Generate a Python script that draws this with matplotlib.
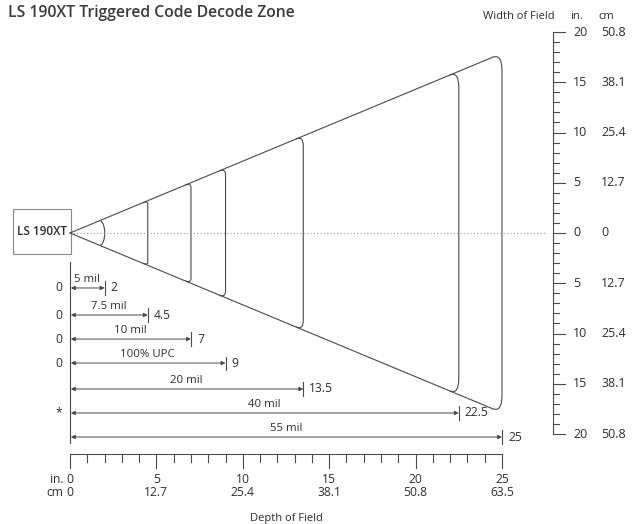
import numpy as np
import matplotlib.pyplot as plt
from matplotlib.path import Path
from matplotlib.patches import PathPatch, Rectangle

plt.rcParams['font.family'] = ['Open Sans', 'DejaVu Sans']

# chart data (inches)
mil_labels = ['5 mil', '7.5 mil', '10 mil', '100% UPC', '20 mil', '40 mil', '55 mil']
near_range = ['0', '0', '0', '0', '', '*', '']
far_range = [2, 4.5, 7, 9, 13.5, 22.5, 25]
depth_ticks = [0, 5, 10, 15, 20, 25]
width_ticks = [20, 15, 10, 5, 0, -5, -10, -15, -20]
cone_slope = 0.715   # half width of the zone per inch of depth

# layout
line_c = '#4a4a4a'
text_c = '#2e2e2e'
row_y = [-5.47, -8.16, -10.55, -12.94, -15.52, -17.91, -20.30]
ruler_x = 27.95      # right hand width ruler
ruler_y = -21.99     # bottom depth ruler

fig = plt.figure(figsize=(6.36, 5.24), dpi=100)
ax = fig.add_axes([0, 0, 1, 1])
ax.set_xlim(-70 / 17.28, (636 - 70) / 17.28)
ax.set_ylim((233 - 524) / 10.05, 233 / 10.05)
ax.axis('off')

ax.text(-3.59, 21.9, 'LS 190XT Triggered Code Decode Zone', fontsize=11.3,
        fontweight='semibold', color='#3a3a3a', ha='left', va='center')

# scanner box
ax.add_patch(Rectangle((-3.30, -2.09), 3.36, 4.48, fill=False, ec='#8a8a8a', lw=0.8))
ax.text(-1.62, 0.15, 'LS 190XT', fontsize=8.5, fontweight='semibold', color=text_c,
        ha='center', va='center')

# center line
ax.plot([0, 27.5], [0, 0], color='#9a9a9a', lw=0.8, ls=(0, (1, 2)))


def corner(D):
    return 0.25 + 0.012 * D, 0.07 * D


# cone edges
a, b = corner(far_range[-1])
end = far_range[-1] - a
ax.plot([0, end], [0, cone_slope * end], color=line_c, lw=0.8)
ax.plot([0, end], [0, -cone_slope * end], color=line_c, lw=0.8)

# zone boundaries
for i, D in enumerate(far_range):
    if i == 0:
        d0 = D - 0.26
        verts = [(d0, cone_slope * d0), (D + 0.1, 1.0), (D + 0.1, -1.0), (d0, -cone_slope * d0)]
        codes = [Path.MOVETO, Path.CURVE4, Path.CURVE4, Path.CURVE4]
    else:
        a, b = corner(D)
        w = cone_slope * D
        w0 = cone_slope * (D - a)
        verts = [(D - a, w0), (D, w), (D, w - b), (D, -w + b), (D, -w), (D - a, -w0)]
        codes = [Path.MOVETO, Path.CURVE3, Path.CURVE3, Path.LINETO, Path.CURVE3, Path.CURVE3]
    ax.add_patch(PathPatch(Path(verts, codes), fill=False, ec=line_c, lw=0.8))

# range bars
ax.plot([0, 0], [-2.9, -20.9], color=line_c, lw=0.8)
for lab, near, far, y in zip(mil_labels, near_range, far_range, row_y):
    ax.annotate('', xy=(far, y), xytext=(0.05, y),
                arrowprops=dict(arrowstyle='<|-|>', mutation_scale=6, lw=0.7,
                                color=line_c, shrinkA=0, shrinkB=0))
    ax.plot([far, far], [y - 0.65, y + 0.65], color=line_c, lw=0.8)
    ax.text(far + 0.35, y, f'{far:g}', fontsize=8.7, color=text_c, ha='left', va='center')
    ax.text(far / 2, y + 0.3, lab, fontsize=8.2, color=text_c, ha='center', va='bottom')
    if near:
        ax.text(-0.64, y, near, fontsize=8.7, color=text_c, ha='center', va='center')

# depth ruler
ax.plot([0, 25], [ruler_y, ruler_y], color=line_c, lw=0.8)
for t in range(0, 26):
    low = ruler_y - (1.39 if t % 5 == 0 else 0.8)
    ax.plot([t, t], [ruler_y, low], color=line_c, lw=0.8)
for t in depth_ticks:
    ax.text(t, -24.48, f'{t}', fontsize=8.7, color=text_c, ha='center', va='center')
    ax.text(t, -25.87, f'{t * 2.54:.1f}' if t else '0', fontsize=8.7, color=text_c,
            ha='center', va='center')
ax.text(-0.4, -24.48, 'in.', fontsize=8.7, color=text_c, ha='right', va='center')
ax.text(-0.4, -25.87, 'cm', fontsize=8.7, color=text_c, ha='right', va='center')
ax.text(12.5, -28.36, 'Depth of Field', fontsize=8, color=text_c, ha='center', va='center')

# width ruler
ax.plot([ruler_x, ruler_x], [-20, 20], color=line_c, lw=0.8)
for t in range(-20, 21):
    right = ruler_x + (0.7 if t % 5 == 0 else 0.35)
    ax.plot([ruler_x, right], [t, t], color=line_c, lw=0.8)
for t in width_ticks:
    ax.text(29.11, t, f'{abs(t)}', fontsize=9, color=text_c, ha='left', va='center')
    ax.text(30.73, t, f'{abs(t) * 2.54:.1f}' if t else '0', fontsize=9, color=text_c,
            ha='left', va='center')
ax.text(28.07, 21.5, 'Width of Field', fontsize=8, color=text_c, ha='right', va='center')
ax.text(28.94, 21.5, 'in.', fontsize=8, color=text_c, ha='left', va='center')
ax.text(30.6, 21.5, 'cm', fontsize=8, color=text_c, ha='left', va='center')

fig.savefig('out.png', dpi=100, facecolor='white')
